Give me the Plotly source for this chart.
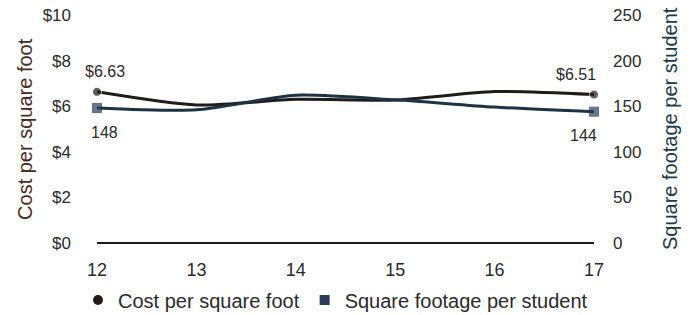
import plotly.graph_objects as go

years = [12, 13, 14, 15, 16, 17]
cost_per_sqft = [6.63, 6.05, 6.30, 6.27, 6.64, 6.51]
sqft_per_student = [148, 146, 162, 157, 149, 144]

cost_name = "Cost per square foot"
sqft_name = "Square footage per student"

COST_COLOR = "#231a1a"
SQFT_COLOR = "#1c3346"
SQFT_MARK = "#2b3d5c"
TEXT_COLOR = "#2a2a2a"
FONT = "Liberation Sans, Arial, sans-serif"

W, H = 699, 315
L, T, PW, PH = 97, 15, 497, 228

last = len(years) - 1
cost_sizes = [9 if i in (0, last) else 0 for i in range(len(years))]
sqft_sizes = [9 if i in (0, last) else 0 for i in range(len(years))]

fig = go.Figure()

fig.add_trace(go.Scatter(
    x=years, y=sqft_per_student, yaxis="y2", mode="lines+markers",
    line=dict(color=SQFT_COLOR, width=3, shape="spline", smoothing=0.7),
    marker=dict(symbol="square", size=sqft_sizes, color=SQFT_MARK),
    cliponaxis=False, showlegend=False, name=sqft_name))

fig.add_trace(go.Scatter(
    x=years, y=cost_per_sqft, mode="lines+markers",
    line=dict(color=COST_COLOR, width=3, shape="spline", smoothing=0.7),
    marker=dict(symbol="circle", size=cost_sizes, color=COST_COLOR),
    cliponaxis=False, showlegend=False, name=cost_name))

# legend entries
fig.add_trace(go.Scatter(x=[None], y=[None], mode="markers", name=cost_name,
                         marker=dict(symbol="circle", size=10, color=COST_COLOR)))
fig.add_trace(go.Scatter(x=[None], y=[None], mode="markers", name=sqft_name,
                         marker=dict(symbol="square", size=10, color=SQFT_MARK)))

annotations = []
# endpoint value labels
for i, xa in ((0, "left"), (last, "right")):
    annotations.append(dict(
        x=years[i], y=cost_per_sqft[i], xref="x", yref="y",
        text=f"${cost_per_sqft[i]:.2f}", showarrow=False,
        xanchor=xa, yanchor="middle", xshift=(-14 if i == 0 else 4), yshift=20,
        font=dict(size=16, color=TEXT_COLOR)))
    annotations.append(dict(
        x=years[i], y=sqft_per_student[i], xref="x", yref="y2",
        text=f"{sqft_per_student[i]}", showarrow=False,
        xanchor=xa, yanchor="middle", xshift=(-8 if i == 0 else 5), yshift=-24,
        font=dict(size=16, color=TEXT_COLOR)))
# axis titles
annotations.append(dict(
    x=-0.145, y=0.5, xref="paper", yref="paper", text=cost_name, textangle=-90,
    showarrow=False, xanchor="center", yanchor="middle",
    font=dict(size=20, color="#4a2a22")))
annotations.append(dict(
    x=1.153, y=0.5, xref="paper", yref="paper", text=sqft_name, textangle=-90,
    showarrow=False, xanchor="center", yanchor="middle",
    font=dict(size=20, color="#1c3a4a")))

fig.update_layout(
    width=W, height=H,
    margin=dict(l=L, r=W - L - PW, t=T, b=H - T - PH, autoexpand=False),
    paper_bgcolor="white", plot_bgcolor="white",
    font=dict(family=FONT, size=17, color=TEXT_COLOR),
    xaxis=dict(
        range=[12, 17], tickvals=years, ticktext=[str(y) for y in years],
        showgrid=False, zeroline=False, showline=False, ticks="",
        automargin=False, ticklabelstandoff=14, tickfont=dict(size=18),
        ticklabeloverflow="allow"),
    yaxis=dict(
        range=[0, 10], dtick=2, tickprefix="$", showgrid=False,
        zeroline=True, zerolinecolor="#1a1a1a", zerolinewidth=2,
        showline=False, ticks="", ticklabelstandoff=25, automargin=False,
        tickfont=dict(size=17), ticklabeloverflow="allow"),
    yaxis2=dict(
        range=[0, 250], dtick=50, overlaying="y", side="right",
        showgrid=False, zeroline=False, showline=False, ticks="",
        ticklabelstandoff=18, automargin=False, tickfont=dict(size=17),
        ticklabeloverflow="allow"),
    legend=dict(orientation="h", xref="paper", yref="paper",
                x=(78 - L) / PW, xanchor="left",
                y=(T + PH - 300) / PH, yanchor="middle",
                font=dict(size=20), itemwidth=30, tracegroupgap=0),
    annotations=annotations,
    showlegend=True,
)

fig.write_html("out.html", config={"displayModeBar": False},
               post_script="document.body.style.margin='0px';")
